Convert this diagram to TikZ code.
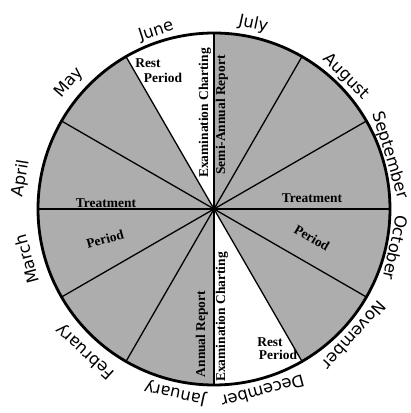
\documentclass[tikz,border=0pt]{standalone}
\usepackage{fontspec}
\setmainfont{Liberation Serif}
\newfontfamily\handfont{DejaVu Sans}
\usetikzlibrary{positioning, calc}

\begin{document}
\begin{tikzpicture}[x=1bp, y=1bp,
    month_lbl/.style={font=\handfont\fontsize{16.5}{18}\selectfont, inner sep=0pt},
    plate_txt/.style={font=\bfseries\fontsize{13.5}{15}\selectfont, inner sep=0pt},
    spoke/.style={line width=1.3bp},
    ]
    \useasboundingbox (-214,-204) rectangle (197,209);

    % Dial
    \coordinate (o) at (0,0);
    \fill[black!32] (o) circle (176);
    \fill[white] (o) -- (90:176) arc (90:120:176) -- cycle;
    \fill[white] (o) -- (270:176) arc (270:300:176) -- cycle;

    % Spokes
    \draw[spoke] (0:176) -- (180:176);
    \draw[spoke] (30:176) -- (210:176);
    \draw[spoke] (60:176) -- (240:176);
    \draw[spoke] (90:176) -- (270:176);
    \draw[spoke] (120:176) -- (300:176);
    \draw[spoke] (150:176) -- (330:176);
    \draw[line width=2.8bp] (o) circle (176);

    % Months
    \node[month_lbl, rotate=18] (jun) at (108:187) {June};
    \node[month_lbl, rotate=-12] (jul) at (78:189) {July};
    \node[month_lbl, rotate=-45] (aug) at (45:187) {August};
    \node[month_lbl, rotate=-73] (sep) at (17:184) {September};
    \node[month_lbl, rotate=-102] (oct) at (-12:186) {October};
    \node[month_lbl, rotate=-132] (nov) at (-42:189) {November};
    \node[month_lbl, rotate=-165] (dec) at (-75:189) {December};
    \node[month_lbl, rotate=168] (jan) at (-102:188) {January};
    \node[month_lbl, rotate=138] (feb) at (228:192) {February};
    \node[month_lbl, rotate=105] (mar) at (195:194) {March};
    \node[month_lbl, rotate=81] (apr) at (171:195) {April};
    \node[month_lbl, rotate=49] (may) at (139:192) {May};

    % Plate texts
    \node[plate_txt] (rest_a) at (-66,146) {Rest};
    \node[plate_txt] (per_a) at (-51,131) {Period};
    \node[plate_txt, rotate=90] (exam_a) at (-9,96) {Examination Charting};
    \node[plate_txt, rotate=90] (semi) at (8,94) {Semi-Annual Report};
    \node[plate_txt] (treat_r) at (98,11) {Treatment};
    \node[plate_txt, rotate=-30] (per_r) at (98,-29) {Period};
    \node[plate_txt] (treat_l) at (-108,6) {Treatment};
    \node[plate_txt, rotate=15] (per_l) at (-109,-30) {Period};
    \node[plate_txt, rotate=90] (exam_b) at (8,-108) {Examination Charting};
    \node[plate_txt, rotate=90] (annual) at (-12,-125) {Annual Report};
    \node[plate_txt] (rest_b) at (56,-133) {Rest};
    \node[plate_txt] (per_b) at (64,-146) {Period};
\end{tikzpicture}
\end{document}
